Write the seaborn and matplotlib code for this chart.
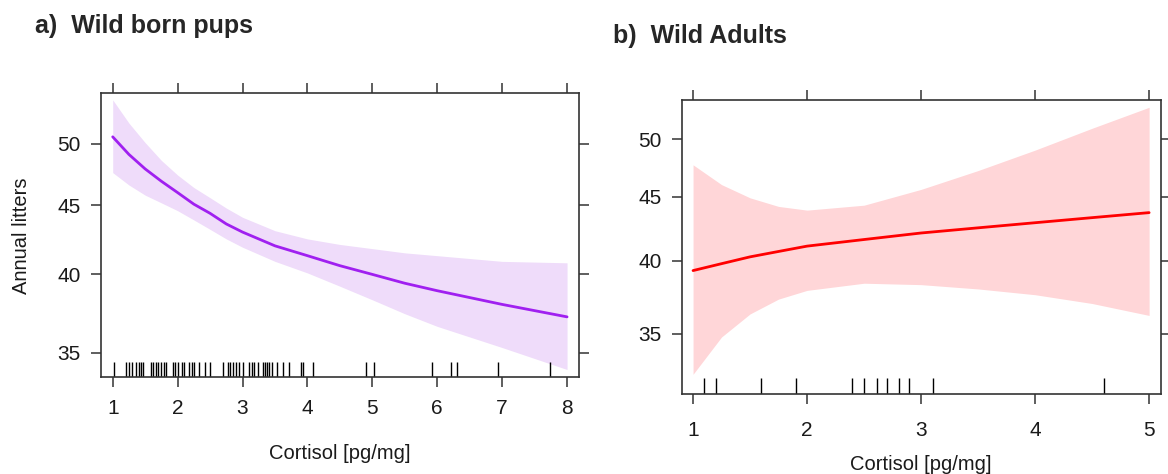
import numpy as np
import pandas as pd
import matplotlib
matplotlib.use('Agg')
import matplotlib.pyplot as plt
from matplotlib.ticker import FixedLocator, ScalarFormatter, NullLocator
import seaborn as sns

# panel a) wild born pups - effect of cortisol on annual litters
pups_x = [1, 1.25, 1.5, 1.75, 2, 2.25, 2.5, 2.75, 3, 3.5, 4, 4.5, 5, 5.5, 6, 7, 8]
pups_fit = [50.6, 49.1, 47.9, 46.9, 46.0, 45.1, 44.4, 43.6, 43.0, 42.0, 41.3, 40.6, 40.0,
            39.4, 38.9, 38.0, 37.2]
pups_upper = [53.9, 51.8, 50.1, 48.6, 47.4, 46.4, 45.6, 44.8, 44.1, 43.1, 42.5, 42.1, 41.8,
              41.5, 41.3, 40.9, 40.8]
pups_lower = [47.6, 46.6, 45.8, 45.2, 44.6, 43.9, 43.2, 42.5, 41.9, 40.9, 40.1, 39.2, 38.3,
              37.4, 36.6, 35.3, 34.0]
pups_rug = [1.02, 1.205, 1.25, 1.29, 1.36, 1.40, 1.43, 1.47, 1.585, 1.625, 1.67, 1.70,
            1.745, 1.79, 1.82, 1.925, 1.965, 2.00, 2.07, 2.10, 2.175, 2.22, 2.26, 2.33,
            2.42, 2.50, 2.70, 2.77, 2.81, 2.85, 2.895, 2.94, 3.00, 3.105, 3.14, 3.18,
            3.245, 3.31, 3.34, 3.37, 3.41, 3.46, 3.53, 3.62, 3.72, 3.90, 3.93, 4.09,
            4.90, 5.03, 5.92, 6.21, 6.30, 6.93, 7.74]

# panel b) wild adults
adult_x = [1, 1.25, 1.5, 1.75, 2, 2.5, 3, 3.5, 4, 4.5, 5]
adult_fit = [39.3, 39.8, 40.3, 40.7, 41.1, 41.6, 42.1, 42.5, 42.9, 43.3, 43.7]
adult_upper = [47.7, 46.0, 44.9, 44.2, 43.9, 44.3, 45.6, 47.2, 49.0, 51.0, 53.0]
adult_lower = [32.5, 34.8, 36.3, 37.3, 37.9, 38.4, 38.3, 38.0, 37.6, 37.0, 36.2]
adult_rug = [1.097, 1.199, 1.600, 1.899, 2.396, 2.501, 2.610, 2.700, 2.803, 2.896, 3.107, 4.606]

y_ticks = [35, 40, 45, 50]

sns.set_theme(style='white')
plt.rcParams['font.family'] = ['Liberation Sans', 'DejaVu Sans']

fig = plt.figure(figsize=(11.68, 4.74), dpi=100)
ax_a = fig.add_axes([0.0865, 0.204, 0.409, 0.599])
ax_b = fig.add_axes([0.5836, 0.1688, 0.410, 0.620])

panels = [
    (ax_a, pups_x, pups_fit, pups_lower, pups_upper, pups_rug,
     '#A020F0', '#EFDCFA', (0.82, 8.18), (33.55, 54.5), range(1, 9), 8, 19),
    (ax_b, adult_x, adult_fit, adult_lower, adult_upper, adult_rug,
     '#FF0000', '#FFD6D8', (0.9, 5.1), (31.35, 53.7), range(1, 6), 12, 11),
]

for ax, x, fit, lo, hi, rug, line_col, band_col, xlim, ylim, xt, xpad, lpad in panels:
    df = pd.DataFrame({'x': x, 'fit': fit})
    ax.fill_between(x, lo, hi, color=band_col, lw=0)
    sns.lineplot(data=df, x='x', y='fit', ax=ax, color=line_col, lw=2)
    sns.rugplot(x=rug, ax=ax, height=0.054, color='black', lw=1.4, expand_margins=False)
    ax.set_yscale('log')
    ax.yaxis.set_major_locator(FixedLocator(y_ticks))
    ax.yaxis.set_major_formatter(ScalarFormatter())
    ax.yaxis.set_minor_locator(NullLocator())
    ax.set_xticks(list(xt))
    ax.set_xlim(*xlim)
    ax.set_ylim(*ylim)
    ax.tick_params(axis='both', which='major', direction='out', length=7.5, width=1.1,
                   color='#333333', labelsize=15, labelcolor='#1a1a1a',
                   top=True, right=True, bottom=True, left=True,
                   labeltop=False, labelright=False)
    ax.tick_params(axis='x', pad=xpad)
    ax.tick_params(axis='y', pad=7)
    for sp in ax.spines.values():
        sp.set_color('#333333')
        sp.set_linewidth(1.2)
    ax.set_xlabel('Cortisol [pg/mg]', fontsize=14.5, color='#1a1a1a', labelpad=lpad)
    ax.set_ylabel('')
    ax.grid(False)

ax_a.set_ylabel('Annual litters', fontsize=14.5, color='#1a1a1a', labelpad=19)

fig.text(0.03, 0.945, 'a)  Wild born pups', fontsize=18, fontweight='bold', va='center')
fig.text(0.525, 0.925, 'b)  Wild Adults', fontsize=18, fontweight='bold', va='center')

fig.savefig('out.png', dpi=100)
